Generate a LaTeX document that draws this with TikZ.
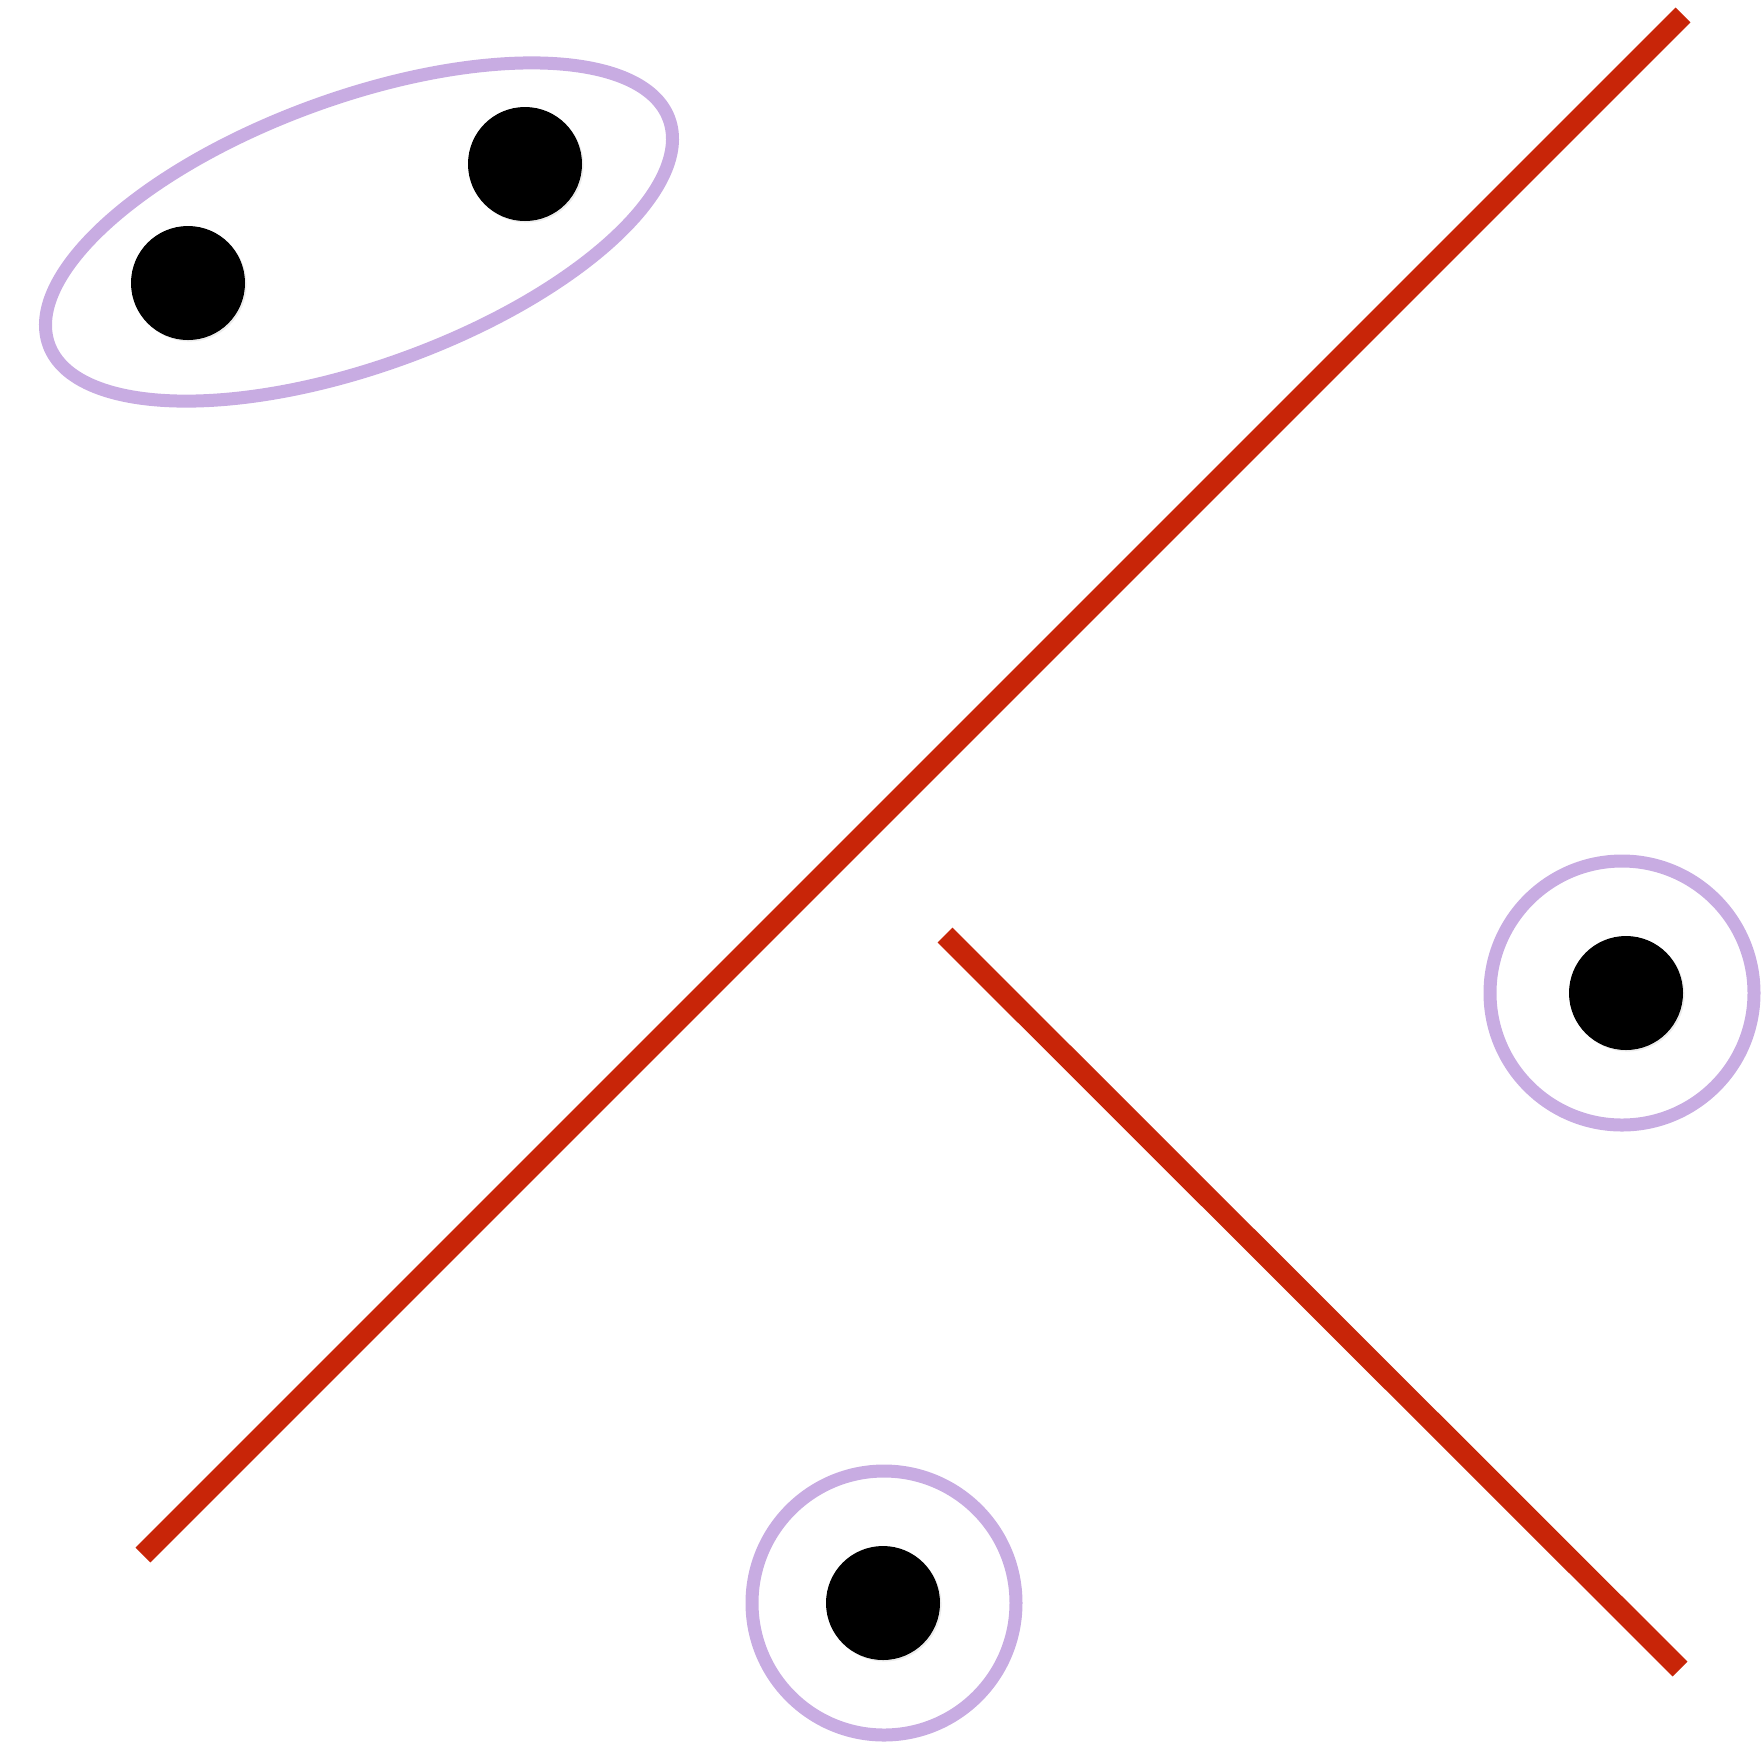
\documentclass[tikz,border=0pt]{standalone}
\usetikzlibrary{shadows}
\definecolor{ringlav}{RGB}{200,172,226}
\definecolor{barred}{RGB}{200,37,8}
\begin{document}
\begin{tikzpicture}[x=0.5pt,y=-0.5pt,
  dot/.style={circle,fill=black,minimum size=57pt,inner sep=0pt,
    drop shadow={shadow xshift=0.8pt,shadow yshift=-0.8pt,opacity=0.15}},
  ring/.style={draw=ringlav,line width=6.5pt},
  bar/.style={draw=barred,line width=10.5pt,line cap=butt}]
\useasboundingbox (0,0) rectangle (1763,1753);
% dots
\node[dot] (d1) at (188,283) {};
\node[dot] (d2) at (525,164) {};
\node[dot] (d3) at (1626,993) {};
\node[dot] (d4) at (883,1603) {};
% rings
\draw[ring] (359,232) ellipse [x radius=330, y radius=134, rotate=20];
\draw[ring] (1622,993) circle [radius=132];
\draw[ring] (884,1603) circle [radius=132];
% bars
\coordinate (a1) at (143,1555);
\coordinate (a2) at (1683,15);
\coordinate (b1) at (945,935);
\coordinate (b2) at (1680,1669);
\draw[bar] (a1) -- (a2);
\draw[bar] (b1) -- (b2);
\end{tikzpicture}
\end{document}
